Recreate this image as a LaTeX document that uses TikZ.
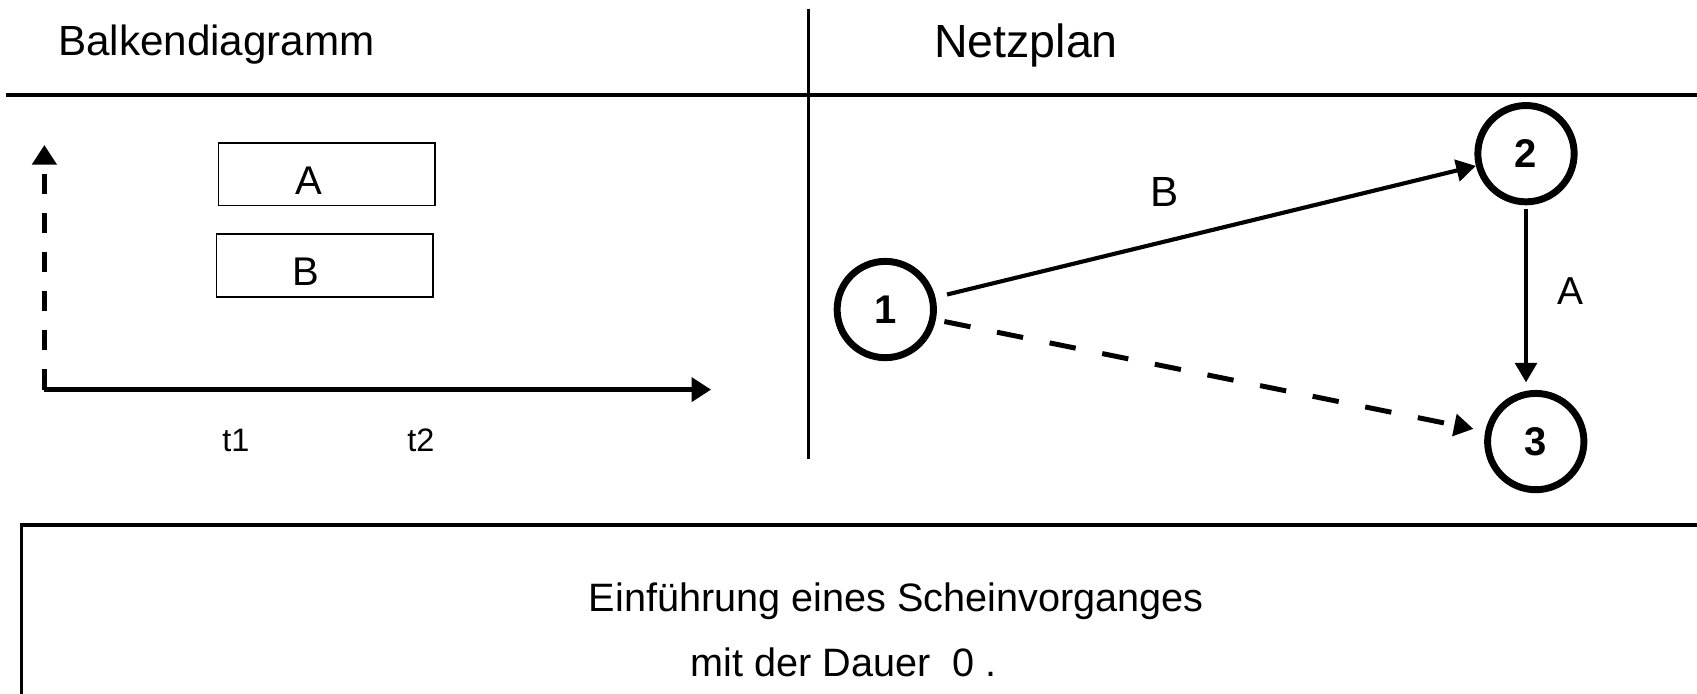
\documentclass[tikz,border=0pt]{standalone}
\usepackage{fontspec}
\setmainfont{Liberation Sans}
\usetikzlibrary{arrows.meta}
\tikzset{
  heading/.style={font=\fontsize{19.5}{23}\selectfont},
  event/.style={draw, circle, line width=3.2pt, minimum size=44.5pt, inner sep=0pt, font=\fontsize{18.5}{22}\selectfont\bfseries},
  bar/.style={draw, line width=0.8pt, minimum width=100pt, minimum height=29pt, inner sep=0pt},
  bartext/.style={font=\fontsize{18.5}{22}\selectfont, xshift=-8.5pt, yshift=-2.9pt},
  activity/.style={line width=1.9pt, -{Triangle[length=9pt,width=10pt]}},
  dummy/.style={activity, line width=2.3pt, dash pattern=on 12.3pt off 12.5pt},
  axis/.style={line width=2.1pt, -{Triangle[length=9pt,width=11pt]}},
  edgetext/.style={font=\fontsize{19.5}{23}\selectfont},
  timetext/.style={font=\fontsize{15}{18}\selectfont},
  bodytext/.style={font=\fontsize{18.3}{22}\selectfont, inner sep=0pt}
}
\begin{document}
\begin{tikzpicture}[x=0.5pt,y=-0.5pt]
\useasboundingbox (0,0) rectangle (1568,641);
\draw[line width=1.85pt] (6,88) -- (1570,88);
\draw[line width=1.5pt] (747,8) -- (747,424);
\node[heading, anchor=base] (balken) at (200,51) {Balkendiagramm};
\node[heading, font=\fontsize{21.5}{25}\selectfont] (netz) at (948,42) {Netzplan};
\node[bar, label={[bartext]center:A}] (barA) at (302,161) {};
\node[bar, label={[bartext]center:B}] (barB) at (300,245.5) {};
\coordinate (origin) at (41,360);
\coordinate (yend) at (41,134);
\coordinate (xend) at (657,360);
\draw[axis] (origin) -- (xend);
\draw[axis, dash pattern=on 9.3pt off 8.8pt] (origin) -- (yend);
\node[timetext] (t1) at (218,407) {t1};
\node[timetext] (t2) at (389,407) {t2};
\node[event] (n1) at (818,286) {1};
\node[event] (n2) at (1410,142) {2};
\node[event] (n3) at (1419,408) {3};
\draw[activity, shorten <=5.5pt] (n1) -- (n2);
\draw[dummy, shorten <=4pt, shorten >=5.5pt] (n1) -- (n3);
\draw[activity, shorten <=1.5pt, shorten >=3.5pt] (n2.south) -- (n2.south |- n3.north);
\node[edgetext] (labB) at (1076,177) {B};
\node[edgetext, font=\fontsize{18}{22}\selectfont] (labA) at (1451,269) {A};
\draw[line width=1.6pt] (20,650) |- (1580,485);
\node[bodytext] (line1) at (828,556) {Einführung eines Scheinvorganges};
\node[bodytext, anchor=west] (line2) at (638,612) {mit der Dauer\ \ 0 .};
\end{tikzpicture}
\end{document}
